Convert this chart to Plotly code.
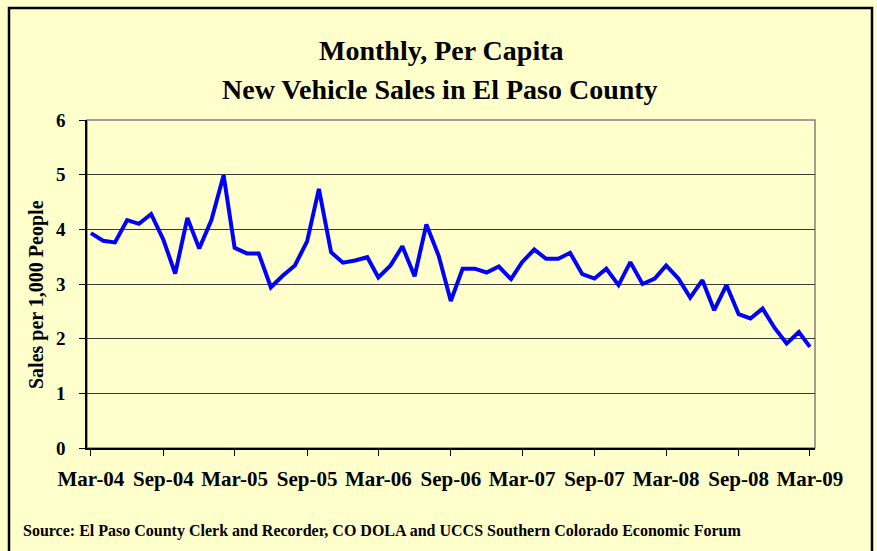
import pandas as pd
import plotly.graph_objects as go

# ---- data ----
start_month = "2004-03-01"
sales_per_1000 = [
    3.93, 3.79, 3.76, 4.17, 4.10, 4.28, 3.81, 3.19, 4.21, 3.65,
    4.17, 4.99, 3.66, 3.56, 3.56, 2.94, 3.15, 3.34, 3.78, 4.74,
    3.58, 3.39, 3.43, 3.49, 3.12, 3.34, 3.69, 3.14, 4.09, 3.52,
    2.69, 3.28, 3.28, 3.21, 3.32, 3.09, 3.40, 3.63, 3.46, 3.46,
    3.57, 3.18, 3.10, 3.28, 2.98, 3.40, 3.00, 3.10, 3.34, 3.10,
    2.75, 3.07, 2.52, 2.98, 2.45, 2.37, 2.55, 2.20, 1.91, 2.12,
    1.85,
]
months = pd.date_range(start_month, periods=len(sales_per_1000), freq="MS")
y_ticks = [0, 1, 2, 3, 4, 5, 6]
title_lines = ["Monthly, Per Capita", "New Vehicle Sales in El Paso County"]
y_title = "Sales per 1,000 People"
source_text = ("Source: El Paso County Clerk and Recorder, CO DOLA and UCCS "
               "Southern Colorado Economic Forum")

FONT = "Liberation Serif, Times New Roman, serif"
BG = "#FFFFCC"

W, H = 877, 551
L, R, T, B = 87, 815, 120, 448


def px_x(p):
    return (p - L) / (R - L)


def px_y(p):
    return (B - p) / (B - T)


fig = go.Figure()
fig.add_trace(go.Scatter(
    x=months, y=sales_per_1000, mode="lines",
    line=dict(color="#0000FF", width=4), hoverinfo="x+y", showlegend=False,
))

fig.update_layout(
    width=W, height=H,
    margin=dict(l=L, r=W - R, t=T, b=H - B, pad=0),
    paper_bgcolor=BG, plot_bgcolor=BG,
    font=dict(family=FONT, color="black"),
    showlegend=False,
)

fig.update_xaxes(
    type="date",
    range=["2004-02-20", "2009-03-14"],
    tick0=start_month, dtick="M6", tickformat="%b-%y",
    ticks="outside", ticklen=6, tickwidth=1, tickcolor="black",
    showline=True, linecolor="black", linewidth=1.5,
    showgrid=False, zeroline=False,
    tickfont=dict(family=FONT, size=21, weight="bold", color="black"),
    ticklabelstandoff=5,
)
fig.update_yaxes(
    range=[0, 6], tickvals=y_ticks,
    ticks="outside", ticklen=6, tickwidth=1, tickcolor="black",
    showline=True, linecolor="black", linewidth=1.5,
    showgrid=True, gridcolor="#3a3a3a", gridwidth=1.2,
    zeroline=False,
    tickfont=dict(family=FONT, size=19, weight="bold", color="black"),
    ticklabelstandoff=10,
)

# plot-area frame (gray top/right)
fig.add_shape(type="rect", xref="paper", yref="paper", x0=0, x1=1, y0=0, y1=1,
              line=dict(color="#808080", width=1.5), layer="below")
# outer chart border
fig.add_shape(type="rect", xref="paper", yref="paper",
              x0=px_x(9), x1=px_x(872), y0=px_y(8), y1=px_y(560),
              line=dict(color="black", width=2.5), layer="above")

fig.add_annotation(text=title_lines[0], xref="paper", yref="paper",
                   x=px_x(441), y=px_y(50), showarrow=False,
                   xanchor="center", yanchor="middle",
                   font=dict(family=FONT, size=28, weight="bold", color="black"))
fig.add_annotation(text=title_lines[1], xref="paper", yref="paper",
                   x=px_x(440), y=px_y(89), showarrow=False,
                   xanchor="center", yanchor="middle",
                   font=dict(family=FONT, size=28, weight="bold", color="black"))
fig.add_annotation(text=y_title, xref="paper", yref="paper",
                   x=px_x(36), y=px_y(295), showarrow=False, textangle=-90,
                   xanchor="center", yanchor="middle",
                   font=dict(family=FONT, size=20, weight="bold", color="black"))
fig.add_annotation(text=source_text, xref="paper", yref="paper",
                   x=px_x(21), y=px_y(531), showarrow=False,
                   xanchor="left", yanchor="middle",
                   font=dict(family=FONT, size=16, weight="bold", color="black"))

fig.write_html("out.html",
               config={"displayModeBar": False},
               post_script="document.body.style.margin='0';")
